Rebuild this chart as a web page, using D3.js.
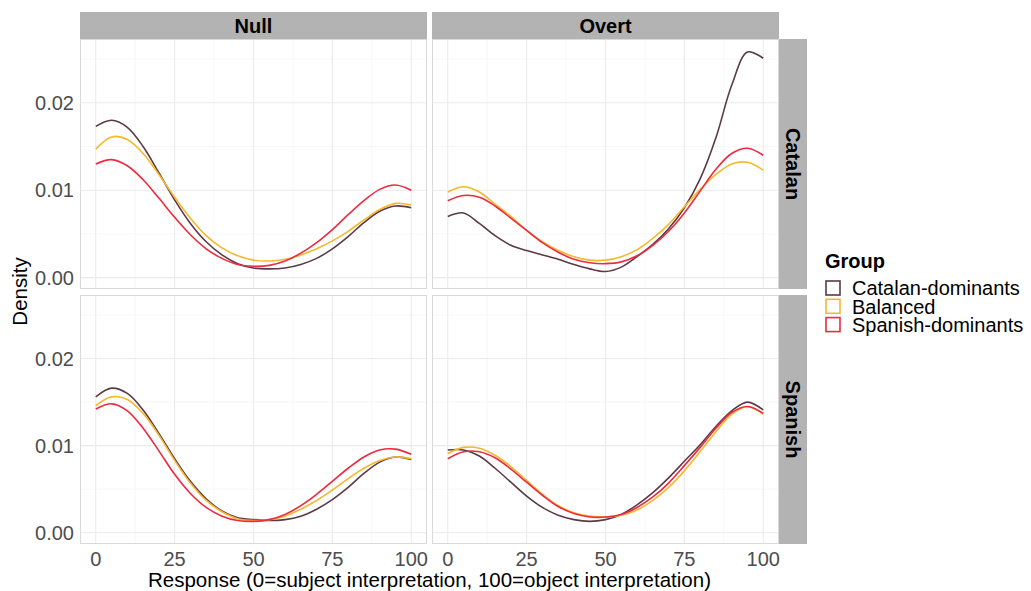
<!DOCTYPE html>
<html><head><meta charset="utf-8">
<script src="https://cdn.jsdelivr.net/npm/d3@7"></script>
<style>body{margin:0;background:#fff;} text{font-family:"Liberation Sans",Arial,sans-serif;}</style>
</head><body><svg id="c" width="1031" height="591"></svg>
<script>
const xs = [0,5,10,15,20,25,30,35,40,45,50,55,60,65,70,75,80,85,90,95,100];
const groups = ["Catalan-dominants","Balanced","Spanish-dominants"];
const colors = ["#5b3a48","#f6b82c","#ee2a3f"];
const cols = ["Null","Overt"];
const rows = ["Catalan","Spanish"];
const xTicks = [0,25,50,75,100];
const yTicks = [0,0.01,0.02];
const yTickLabels = ["0.00","0.01","0.02"];

// Null / Catalan
const nullCat_CD = [0.0173,0.0180,0.0172,0.0150,0.0120,0.0089,0.0062,0.0041,0.0026,0.0016,0.0011,0.0010,0.0011,0.0015,0.0022,0.0033,0.0047,0.0063,0.0076,0.0082,0.0080];
const nullCat_B  = [0.0147,0.0161,0.0158,0.0142,0.0118,0.0092,0.0068,0.0048,0.0034,0.0025,0.0020,0.0019,0.0021,0.0026,0.0033,0.0042,0.0053,0.0066,0.0078,0.0085,0.0083];
const nullCat_SD = [0.0130,0.0135,0.0128,0.0112,0.0091,0.0069,0.0049,0.0033,0.0022,0.0015,0.0013,0.0014,0.0019,0.0028,0.0040,0.0055,0.0072,0.0088,0.0101,0.0106,0.0100];
// Overt / Catalan
const overtCat_CD = [0.0070,0.0074,0.0062,0.0048,0.0037,0.0031,0.0026,0.0021,0.0015,0.0010,0.0007,0.0012,0.0024,0.0038,0.0056,0.0080,0.0113,0.0160,0.0220,0.0258,0.0251];
const overtCat_B  = [0.0098,0.0104,0.0098,0.0084,0.0070,0.0054,0.0041,0.0031,0.0024,0.0020,0.0020,0.0024,0.0032,0.0045,0.0061,0.0081,0.0101,0.0118,0.0130,0.0132,0.0123];
const overtCat_SD = [0.0088,0.0094,0.0092,0.0082,0.0068,0.0054,0.0040,0.0029,0.0021,0.0017,0.0016,0.0018,0.0025,0.0037,0.0053,0.0074,0.0099,0.0124,0.0142,0.0148,0.0140];
// Null / Spanish
const nullSpa_CD = [0.0156,0.0166,0.0160,0.0141,0.0114,0.0085,0.0059,0.0039,0.0025,0.0017,0.0015,0.0014,0.0015,0.0019,0.0027,0.0038,0.0052,0.0068,0.0081,0.0087,0.0084];
const nullSpa_B  = [0.0146,0.0156,0.0153,0.0137,0.0112,0.0083,0.0057,0.0037,0.0024,0.0016,0.0014,0.0015,0.0019,0.0027,0.0037,0.0049,0.0062,0.0074,0.0083,0.0087,0.0085];
const nullSpa_SD = [0.0142,0.0148,0.0140,0.0120,0.0094,0.0067,0.0045,0.0029,0.0019,0.0014,0.0013,0.0015,0.0021,0.0031,0.0044,0.0059,0.0074,0.0087,0.0095,0.0096,0.0090];
// Overt / Spanish
const overtSpa_CD = [0.0095,0.0095,0.0088,0.0074,0.0058,0.0042,0.0029,0.0020,0.0015,0.0013,0.0015,0.0021,0.0032,0.0046,0.0063,0.0082,0.0101,0.0122,0.0140,0.0150,0.0141];
const overtSpa_B  = [0.0091,0.0098,0.0097,0.0089,0.0076,0.0060,0.0044,0.0031,0.0023,0.0019,0.0018,0.0020,0.0026,0.0037,0.0052,0.0071,0.0093,0.0116,0.0136,0.0145,0.0136];
const overtSpa_SD = [0.0085,0.0093,0.0093,0.0086,0.0073,0.0058,0.0043,0.0030,0.0022,0.0018,0.0018,0.0021,0.0029,0.0041,0.0057,0.0077,0.0098,0.0120,0.0138,0.0145,0.0137];

const panelData = {
  "Catalan|Null":[nullCat_CD,nullCat_B,nullCat_SD],
  "Catalan|Overt":[overtCat_CD,overtCat_B,overtCat_SD],
  "Spanish|Null":[nullSpa_CD,nullSpa_B,nullSpa_SD],
  "Spanish|Overt":[overtSpa_CD,overtSpa_B,overtSpa_SD]
};

const svg = d3.select("#c");
const colX = [[80,427],[432,779]];
const rowY = [[39,289],[295,544]];
const stripTop = 12, stripRight = 807;

const x0 = d3.scaleLinear().domain([-5,105]);
const yBase = d3.scaleLinear().domain([-0.0013,0.0273]);

rows.forEach((r,ri)=>{
  cols.forEach((c,ci)=>{
    const [xl,xr] = colX[ci], [yt,yb] = rowY[ri];
    const x = x0.copy().range([xl,xr]);
    const y = yBase.copy().range([yb,yt]);
    const g = svg.append("g");
    [12.5,37.5,62.5,87.5].forEach(v=>g.append("line").attr("x1",x(v)).attr("x2",x(v)).attr("y1",yt).attr("y2",yb).attr("stroke","#f2f2f2").attr("stroke-width",0.6));
    [0.005,0.015,0.025].forEach(v=>g.append("line").attr("y1",y(v)).attr("y2",y(v)).attr("x1",xl).attr("x2",xr).attr("stroke","#f2f2f2").attr("stroke-width",0.6));
    xTicks.forEach(v=>g.append("line").attr("x1",x(v)).attr("x2",x(v)).attr("y1",yt).attr("y2",yb).attr("stroke","#ebebeb").attr("stroke-width",1.1));
    yTicks.forEach(v=>g.append("line").attr("y1",y(v)).attr("y2",y(v)).attr("x1",xl).attr("x2",xr).attr("stroke","#ebebeb").attr("stroke-width",1.1));
    const line = d3.line().x((d,i)=>x(xs[i])).y(d=>y(d)).curve(d3.curveCatmullRom.alpha(0.5));
    panelData[r+"|"+c].forEach((arr,gi)=>{
      g.append("path").attr("d",line(arr)).attr("fill","none").attr("stroke",colors[gi]).attr("stroke-width",1.6);
    });
    g.append("rect").attr("x",xl+0.5).attr("y",yt+0.5).attr("width",xr-xl-1).attr("height",yb-yt-1).attr("fill","none").attr("stroke","#d9d9d9").attr("stroke-width",1);
    if(ci===0){
      yTicks.forEach((v,i)=>g.append("text").attr("x",xl-6).attr("y",y(v)).attr("dy","0.36em").attr("text-anchor","end").attr("font-size",20).attr("fill","#4d4d4d").text(yTickLabels[i]));
    }
    if(ri===1){
      xTicks.forEach(v=>g.append("text").attr("x",x(v)).attr("y",yb+22).attr("text-anchor","middle").attr("font-size",20).attr("fill","#4d4d4d").text(v));
    }
    if(ri===0){
      g.append("rect").attr("x",xl).attr("y",stripTop).attr("width",xr-xl).attr("height",yt-stripTop).attr("fill","#b3b3b3");
      g.append("text").attr("x",(xl+xr)/2).attr("y",(stripTop+yt)/2).attr("dy","0.36em").attr("text-anchor","middle").attr("font-size",20).attr("font-weight","bold").attr("fill","#000").text(c);
    }
    if(ci===1){
      g.append("rect").attr("x",xr).attr("y",yt).attr("width",stripRight-xr).attr("height",yb-yt).attr("fill","#b3b3b3");
      const cx=(xr+stripRight)/2, cy=(yt+yb)/2;
      g.append("text").attr("transform",`translate(${cx},${cy}) rotate(90)`).attr("dy","0.36em").attr("text-anchor","middle").attr("font-size",20).attr("font-weight","bold").attr("fill","#000").text(r);
    }
  });
});

svg.append("text").attr("x",(80+779)/2).attr("y",587).attr("text-anchor","middle").attr("font-size",20.5).attr("fill","#000").text("Response (0=subject interpretation, 100=object interpretation)");
svg.append("text").attr("transform",`translate(27,${(39+544)/2}) rotate(-90)`).attr("text-anchor","middle").attr("font-size",20.5).attr("fill","#000").text("Density");

const lg = svg.append("g");
lg.append("text").attr("x",825).attr("y",268).attr("font-size",20).attr("font-weight","bold").attr("fill","#000").text("Group");
groups.forEach((gname,i)=>{
  const ky = 281 + i*18.3;
  lg.append("rect").attr("x",826).attr("y",ky).attr("width",14).attr("height",14).attr("fill","#fff").attr("stroke",colors[i]).attr("stroke-width",1.6);
  lg.append("text").attr("x",852).attr("y",ky+7).attr("dy","0.36em").attr("font-size",20).attr("fill","#000").text(gname);
});
</script></body></html>
